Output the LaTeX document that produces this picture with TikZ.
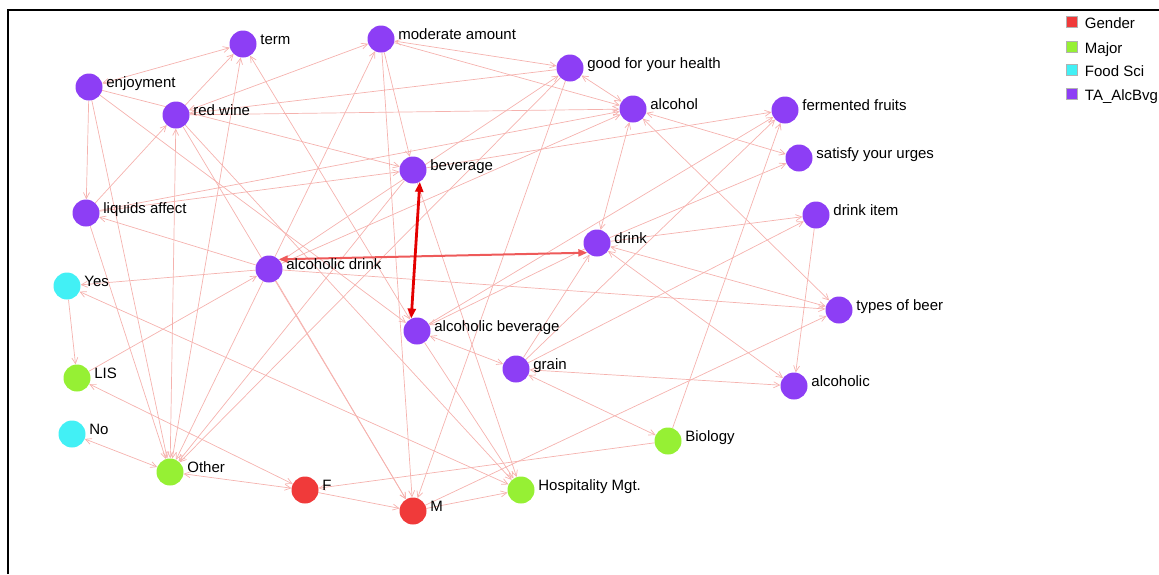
\documentclass[tikz,border=0pt]{standalone}
\usepackage{fontspec}
\setmainfont{Liberation Sans}
\usetikzlibrary{arrows.meta,positioning,backgrounds}
\definecolor{alcpurple}{RGB}{141,62,245}
\definecolor{gendred}{RGB}{240,58,58}
\definecolor{majgreen}{RGB}{150,240,52}
\definecolor{foodcyan}{RGB}{66,240,245}
\definecolor{linkpink}{RGB}{245,178,174}
\definecolor{hotline}{RGB}{238,90,90}
\definecolor{redline}{RGB}{228,0,0}

\begin{document}
\begin{tikzpicture}[
    x=1pt, y=-1pt,
    vert/.style={circle, fill=#1, minimum size=27pt, inner sep=0pt},
    lab/.style={font=\fontsize{15}{17}\selectfont, text height=10.5pt, text depth=3pt, inner sep=0pt, xshift=3.5pt, yshift=3.5pt},
    keylab/.style={font=\fontsize{15}{17}\selectfont, text height=10.5pt, text depth=3pt, inner sep=0pt, xshift=7pt, yshift=-3pt},
    key/.style={rectangle, fill=#1, draw=gray!60, line width=0.5pt, minimum size=11pt, inner sep=0pt},
    link/.style={draw=linkpink, line width=0.7pt, -{Straight Barb[length=6pt,width=6pt]}},
    linkb/.style={draw=linkpink, line width=0.7pt, {Straight Barb[length=6pt,width=6pt]}-{Straight Barb[length=6pt,width=6pt]}},
    hot/.style={draw=hotline, line width=2pt, {Triangle[length=9pt,width=7pt]}-{Triangle[length=9pt,width=7pt]}},
    strong/.style={draw=redline, line width=2.8pt, {Triangle[length=10pt,width=8pt]}-{Triangle[length=10pt,width=8pt]}}
]
    \useasboundingbox (0,0) rectangle (1159,574);
    \draw[line width=2pt] (8,574) -- (8,10) -- (1159,10);

    \node[vert=alcpurple, label={[lab]0:term}] (term) at (243,44) {};
    \node[vert=alcpurple, label={[lab]0:moderate amount}] (modamt) at (381,39) {};
    \node[vert=alcpurple, label={[lab]0:enjoyment}] (enjoy) at (89,87) {};
    \node[vert=alcpurple, label={[lab]0:red wine}] (redwine) at (176,115) {};
    \node[vert=alcpurple, label={[lab]0:good for your health}] (goodhealth) at (570,68) {};
    \node[vert=alcpurple, label={[lab]0:alcohol}] (alcohol) at (633,109) {};
    \node[vert=alcpurple, label={[lab]0:fermented fruits}] (fermfruit) at (785,110) {};
    \node[vert=alcpurple, label={[lab]0:satisfy your urges}] (satisfy) at (799,158) {};
    \node[vert=alcpurple, label={[lab]0:beverage}] (beverage) at (413,170) {};
    \node[vert=alcpurple, label={[lab]0:liquids affect}] (liquids) at (86,213) {};
    \node[vert=alcpurple, label={[lab]0:drink item}] (drinkitem) at (816,215) {};
    \node[vert=alcpurple, label={[lab]0:drink}] (drink) at (597,243) {};
    \node[vert=alcpurple, label={[lab]0:alcoholic drink}] (alcdrink) at (269,269) {};
    \node[vert=foodcyan, label={[lab]0:Yes}] (yes) at (67,286) {};
    \node[vert=alcpurple, label={[lab]0:types of beer}] (beer) at (839,310) {};
    \node[vert=alcpurple, label={[lab]0:alcoholic beverage}] (alcbev) at (417,331) {};
    \node[vert=alcpurple, label={[lab]0:grain}] (grain) at (516,369) {};
    \node[vert=majgreen, label={[lab]0:LIS}] (lis) at (77,378) {};
    \node[vert=alcpurple, label={[lab]0:alcoholic}] (alcoholic) at (794,386) {};
    \node[vert=foodcyan, label={[lab]0:No}] (no) at (72,434) {};
    \node[vert=majgreen, label={[lab]0:Biology}] (biology) at (668,441) {};
    \node[vert=majgreen, label={[lab]0:Other}] (other) at (170,472) {};
    \node[vert=gendred, label={[lab]0:F}] (f) at (305,490) {};
    \node[vert=majgreen, label={[lab]0:Hospitality Mgt.}] (hosp) at (521,490) {};
    \node[vert=gendred, label={[lab]0:M}] (m) at (413,511) {};

    \node[key=gendred, label={[keylab]0:Gender}] (kgender) at (1072,22) {};
    \node[key=majgreen, label={[keylab]0:Major}] (kmajor) at (1072,46.5) {};
    \node[key=foodcyan, label={[keylab]0:Food Sci}] (kfood) at (1072,70) {};
    \node[key=alcpurple, label={[keylab]0:TA\_AlcBvg}] (kalc) at (1072,93.5) {};

    \begin{scope}[on background layer]
    \draw[linkb] (enjoy) -- (term);
    \draw[link] (redwine) -- (term);
    \draw[linkb] (redwine) -- (modamt);
    \draw[linkb] (modamt) -- (goodhealth);
    \draw[link] (modamt) -- (alcohol);
    \draw[linkb] (goodhealth) -- (alcohol);
    \draw[link] (goodhealth) -- (redwine);
    \draw[link] (redwine) -- (alcohol);
    \draw[link] (enjoy) -- (liquids);
    \draw[link] (enjoy) -- (other);
    \draw[link] (enjoy) -- (beverage);
    \draw[link] (enjoy) -- (alcbev);
    \draw[linkb] (term) -- (alcbev);
    \draw[linkb] (term) -- (other);
    \draw[link] (modamt) -- (m);
    \draw[link] (modamt) -- (beverage);
    \draw[link] (alcdrink) -- (modamt);
    \draw[link] (alcdrink) -- (alcohol);
    \draw[link] (alcdrink) -- (beer);
    \draw[link] (alcdrink) -- (yes);
    \draw[link] (alcdrink) -- (liquids);
    \draw[link] (lis) -- (alcdrink);
    \draw[link] (yes) -- (lis);
    \draw[linkb] (yes) -- (hosp);
    \draw[linkb] (no) -- (other);
    \draw[linkb] (other) -- (f);
    \draw[link] (liquids) -- (other);
    \draw[linkb] (redwine) -- (other);
    \draw[link] (alcdrink) -- (other);
    \draw[link] (beverage) -- (other);
    \draw[link] (goodhealth) -- (other);
    \draw[link] (liquids) -- (redwine);
    \draw[link] (liquids) -- (beverage);
    \draw[link] (redwine) -- (m);
    \draw[link] (redwine) -- (hosp);
    \draw[link] (beverage) -- (hosp);
    \draw[linkb] (alcbev) -- (grain);
    \draw[link] (alcbev) -- (hosp);
    \draw[linkb] (grain) -- (biology);
    \draw[link] (m) -- (hosp);
    \draw[link] (m) -- (beer);
    \draw[link] (f) -- (m);
    \draw[link] (biology) -- (f);
    \draw[linkb] (lis) -- (f);
    \draw[link] (goodhealth) -- (m);
    \draw[link] (alcdrink) -- (goodhealth);
    \draw[link] (drink) -- (drinkitem);
    \draw[link] (grain) -- (drinkitem);
    \draw[link] (drinkitem) -- (alcoholic);
    \draw[linkb] (alcohol) -- (satisfy);
    \draw[linkb] (alcohol) -- (drink);
    \draw[linkb] (alcohol) -- (beer);
    \draw[link] (drink) -- (satisfy);
    \draw[link] (beverage) -- (fermfruit);
    \draw[link] (alcbev) -- (fermfruit);
    \draw[link] (grain) -- (fermfruit);
    \draw[link] (biology) -- (fermfruit);
    \draw[linkb] (drink) -- (beer);
    \draw[linkb] (drink) -- (alcoholic);
    \draw[linkb] (grain) -- (alcoholic);
    \draw[link] (grain) -- (drink);
    \draw[link] (drink) -- (alcbev);
    \draw[link] (liquids) -- (alcohol);
    \draw[link] (alcdrink) -- (m);

    \draw[hot] (alcdrink.45) -- (drink.225);
    \draw[strong] (beverage.-60) -- (alcbev.115);
    \end{scope}
\end{tikzpicture}
\end{document}
